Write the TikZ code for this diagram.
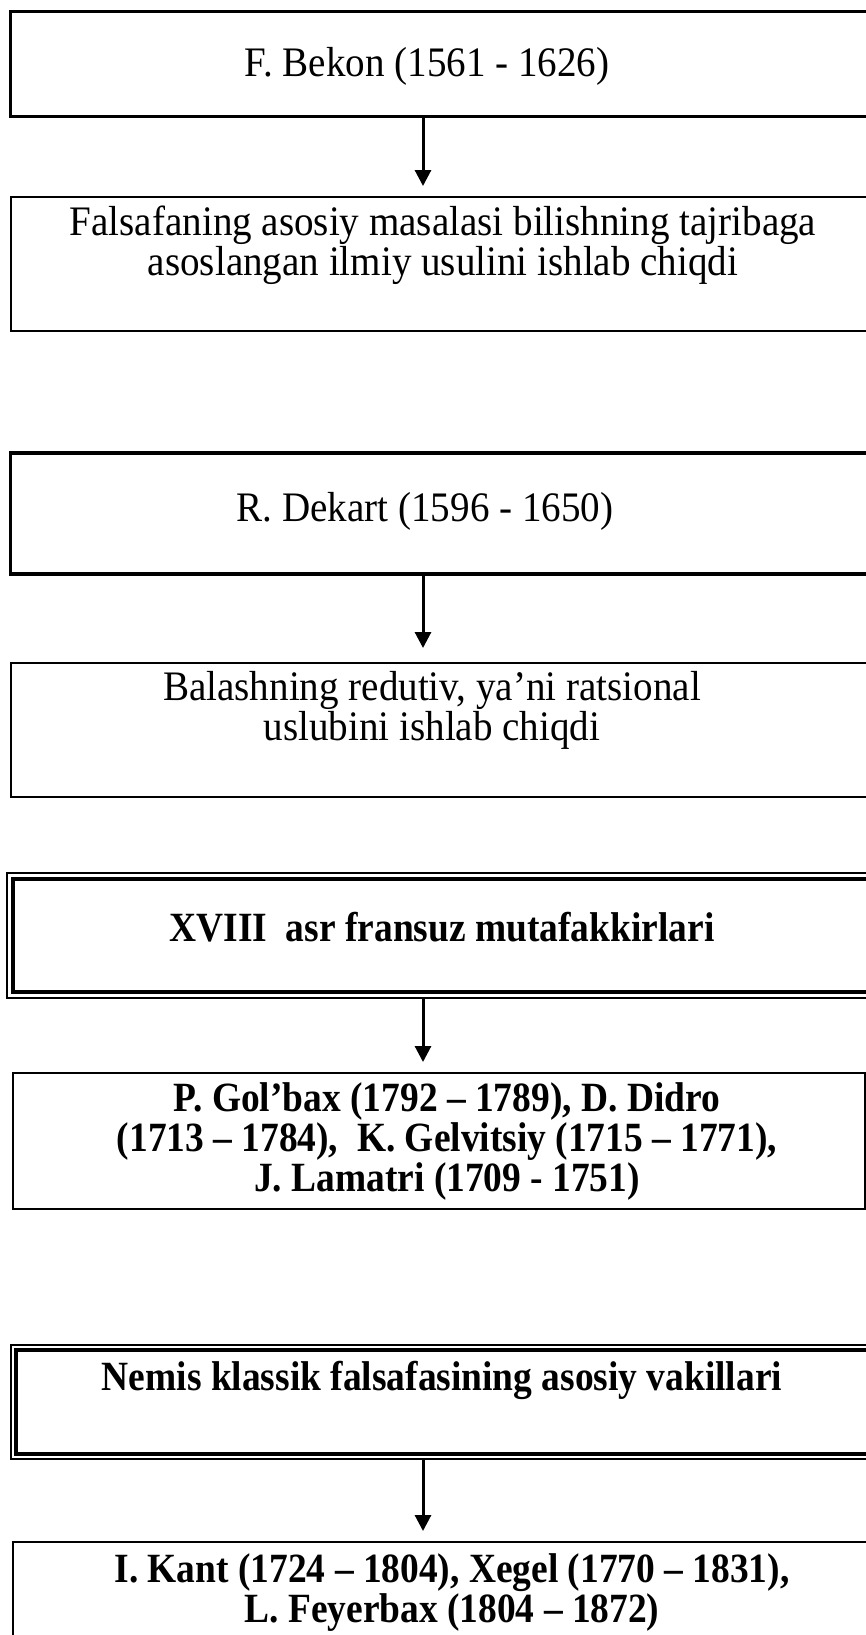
\documentclass[tikz,border=0pt]{standalone}
\usepackage{fontspec}
\setmainfont{Liberation Serif}
\newfontfamily\regfont[FakeStretch=0.93]{Liberation Serif}
\newfontfamily\boldfont[FakeStretch=0.90]{Liberation Serif Bold}
\usetikzlibrary{arrows.meta,fit}
\begin{document}
\begin{tikzpicture}[x=0.5pt,y=-0.5pt,
  boxthick/.style={draw=black,line width=1.6pt,inner sep=0pt,rectangle},
  boxthin/.style={draw=black,line width=1pt,inner sep=0pt,rectangle},
  dblout/.style={draw=black,line width=0.7pt,inner sep=0pt,rectangle},
  dblin/.style={draw=black,line width=1.6pt,inner sep=0pt,rectangle},
  txt/.style={align=center,inner sep=0pt,font=\regfont\fontsize{21pt}{20pt}\selectfont},
  btxt/.style={align=center,inner sep=0pt,font=\boldfont\fontsize{20.8pt}{20pt}\selectfont},
  arr/.style={line width=1.5pt,-{Triangle[width=8pt,length=8pt]},shorten >=5pt}
]
\useasboundingbox (0,0) rectangle (866,1635);
\clip (0,0) rectangle (866,1635);
\coordinate (ax) at (423,0);
% boxes
\node[boxthick,fit={(10.5,11.5) (890,116.5)}] (b1) {};
\node[boxthin,fit={(11,197) (890,331)}] (b2) {};
\node[boxthick,fit={(10.5,453) (890,574)}] (b3) {};
\node[boxthin,fit={(11,663) (890,797)}] (b4) {};
\node[dblout,fit={(7,873) (890,998)}] (b5) {};
\node[dblin,fit={(13,879) (884,992)}] (b5i) {};
\node[boxthin,fit={(13,1073) (865,1209)}] (b6) {};
\node[dblout,fit={(11,1345) (890,1459)}] (b7) {};
\node[dblin,fit={(16,1350) (884,1454)}] (b7i) {};
\node[boxthin,fit={(13,1542) (890,1700)}] (b8) {};
% texts
\node[txt] (t1) at (427,66) {F. Bekon (1561 - 1626)};
\node[txt] (t2) at (443,245) {Falsafaning asosiy masalasi bilishning tajribaga\\asoslangan ilmiy usulini ishlab chiqdi};
\node[txt] (t3) at (425,511.5) {R. Dekart (1596 - 1650)};
\node[txt] (t4) at (432,710) {Balashning redutiv, ya’ni ratsional\\uslubini ishlab chiqdi};
\node[btxt] (t5) at (442,927) {XVIII\ \ asr fransuz mutafakkirlari};
\node[btxt] (t6) at (447,1141.5) {P. Gol’bax (1792 – 1789), D. Didro\\(1713 – 1784),\ \ K. Gelvitsiy (1715 – 1771),\\J. Lamatri (1709 - 1751)};
\node[btxt] (t7) at (442,1380.5) {Nemis klassik falsafasining asosiy vakillari};
\node[btxt] (t8) at (452,1593) {I. Kant (1724 – 1804), Xegel (1770 – 1831),\\L. Feyerbax (1804 – 1872)};
% arrows
\draw[arr] (b1.south -| ax) -- (b2.north -| ax);
\draw[arr,shorten >=7pt] (b3.south -| ax) -- (b4.north -| ax);
\draw[arr] (b5.south -| ax) -- (b6.north -| ax);
\draw[arr] (b7.south -| ax) -- (b8.north -| ax);
\end{tikzpicture}
\end{document}
